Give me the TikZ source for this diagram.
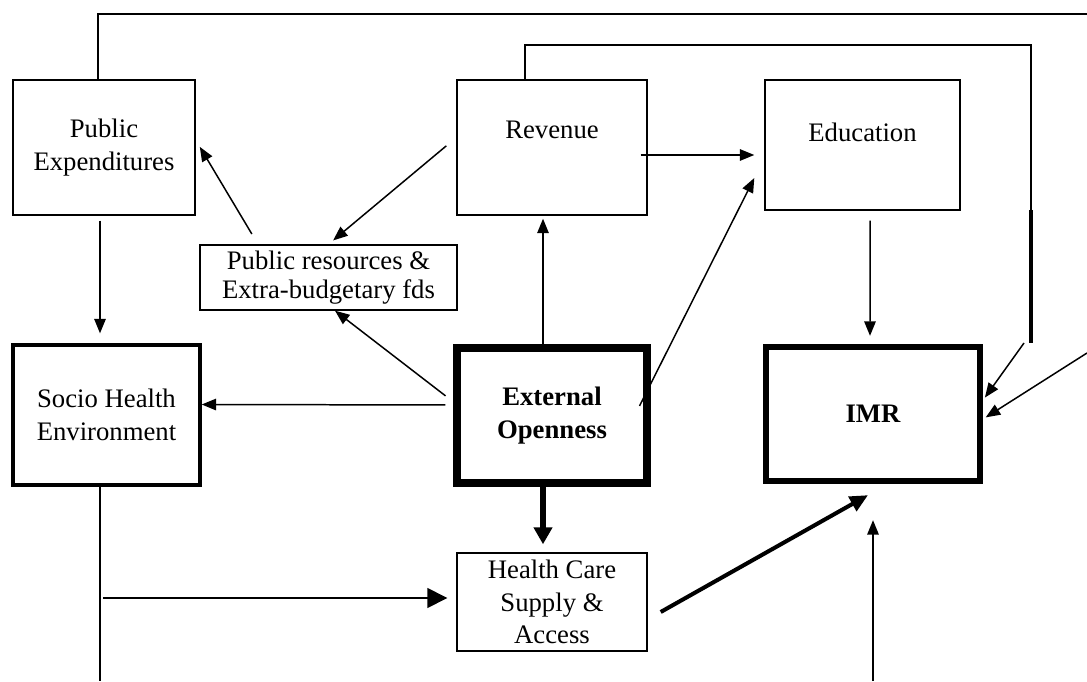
\documentclass[tikz,border=0pt]{standalone}
\usepackage{fontspec}
\setmainfont{Liberation Serif}
\usetikzlibrary{arrows.meta}

\begin{document}
\begin{tikzpicture}[
    font=\fontsize{15.2}{18.5}\selectfont,
    box/.style={draw,line width=0.8pt,align=center,inner sep=0pt},
    arr/.style={line width=0.85pt,-{Triangle[length=0.29cm,width=0.23cm]}},
    thickarr/.style={line width=2.3pt,-{Triangle[length=0.36cm,width=0.32cm]}},
    loopline/.style={line width=1pt}
  ]
        \useasboundingbox (0,0) rectangle (21.74,13.62);
        % boxes
        \node[box,minimum width=3.64cm,minimum height=2.7cm] (pubexp) at (2.08,10.67) {Public\\Expenditures};
        \node[box,minimum width=3.8cm,minimum height=2.7cm] (revenue) at (11.04,10.67) {Revenue\\[-4pt]\strut};
        \node[box,minimum width=3.9cm,minimum height=2.6cm] (education) at (17.25,10.72) {Education\\[-9pt]\strut};
        \node[box,minimum width=5.14cm,minimum height=1.3cm] (pubres) at (6.57,8.07) {Public resources \&\\[-2pt]Extra-budgetary fds};
        \node[box,line width=1.9pt,minimum width=3.74cm,minimum height=2.8cm] (socio) at (2.13,5.32) {Socio Health\\Environment};
        \node[box,line width=4pt,minimum width=3.8cm,minimum height=2.7cm,font=\fontsize{15.2}{18.5}\selectfont\bfseries] (extopen) at (11.04,5.31) {External\\Openness};
        \node[box,line width=3.6pt,minimum width=4.28cm,minimum height=2.68cm,font=\fontsize{15.2}{18.5}\selectfont\bfseries] (imr) at (17.46,5.34) {IMR};
        \node[box,minimum width=3.8cm,minimum height=1.96cm] (health) at (11.04,1.58) {Health Care\\Supply \&\\Access};

        % free ends
        \coordinate (sociobot) at (2.0,0);
        \coordinate (sociojoin) at (2.06,1.66);
        \coordinate (imrbot) at (17.46,0);
        \coordinate (revloop) at (20.62,12.72);
        \coordinate (revthick) at (20.62,9.42);
        \coordinate (revend) at (20.62,6.76);
        \coordinate (publoop) at (21.74,13.34);
        \coordinate (publoopend) at (21.74,6.56);

        % left column
        \draw[arr,shorten <=0.1cm,shorten >=0.2cm] ([xshift=-0.08cm]pubexp.south) -- ([xshift=-0.13cm]socio.north);
        \draw[arr,shorten <=0.24cm,shorten >=0.16cm] ([xshift=-1.41cm]pubres.north) -- ([yshift=0.15cm]pubexp.east);
        \draw[arr,shorten <=0.26cm,shorten >=0.12cm] ([yshift=0.2cm]revenue.west) -- (pubres.north);
        \draw[arr,shorten <=0.2cm] ([yshift=0.27cm]extopen.west) -- ([xshift=0.13cm]pubres.south);
        \draw[arr,shorten <=0.16cm] ([yshift=0.21cm]extopen.west) -- ([yshift=0.21cm]socio.east);
        \draw[line width=0.85pt] ([xshift=-0.13cm]socio.south) -- (sociobot);
        \draw[arr,-{Triangle[length=0.4cm,width=0.4cm]},shorten >=0.18cm] (sociojoin) -- (sociojoin -| health.west);

        % middle column
        \draw[arr,shorten >=0.06cm] ([xshift=-0.18cm]extopen.north) -- ([xshift=-0.18cm]revenue.south);
        \draw[arr] ([shift={(-0.22,0.19)}]extopen.east) -- ([shift={(-0.2,-0.66)}]education.west);
        \draw[arr,shorten >=0.2cm] ([shift={(-0.14,-0.15)}]revenue.east) -- ([yshift=-0.2cm]education.west);
        \draw[line width=3pt,-{Triangle[length=0.34cm,width=0.36cm]},shorten >=0.16cm] ([xshift=-0.18cm]extopen.south) -- ([xshift=-0.18cm]health.north);
        \draw[thickarr] ([shift={(0.26,-0.2)}]health.east) -- ([shift={(-0.1,-0.22)}]imr.south);

        % right column
        \draw[arr,shorten <=0.2cm,shorten >=0.16cm] ([xshift=0.15cm]education.south) -- ([xshift=-0.06cm]imr.north);
        \draw[arr,shorten >=0.72cm] (imrbot) -- (imr.south);
        \draw[loopline] ([xshift=-0.54cm]revenue.north) |- (revloop) -- (revthick);
        \draw[line width=1.9pt] (revthick) -- (revend);
        \draw[arr,shorten >=0.06cm] ([xshift=-0.14cm]revend) -- ([yshift=0.28cm]imr.east);
        \draw[loopline] ([xshift=-0.12cm]pubexp.north) |- (publoop);
        \draw[arr,shorten >=0.06cm] (publoopend) -- ([yshift=-0.1cm]imr.east);
    \end{tikzpicture}
\end{document}
